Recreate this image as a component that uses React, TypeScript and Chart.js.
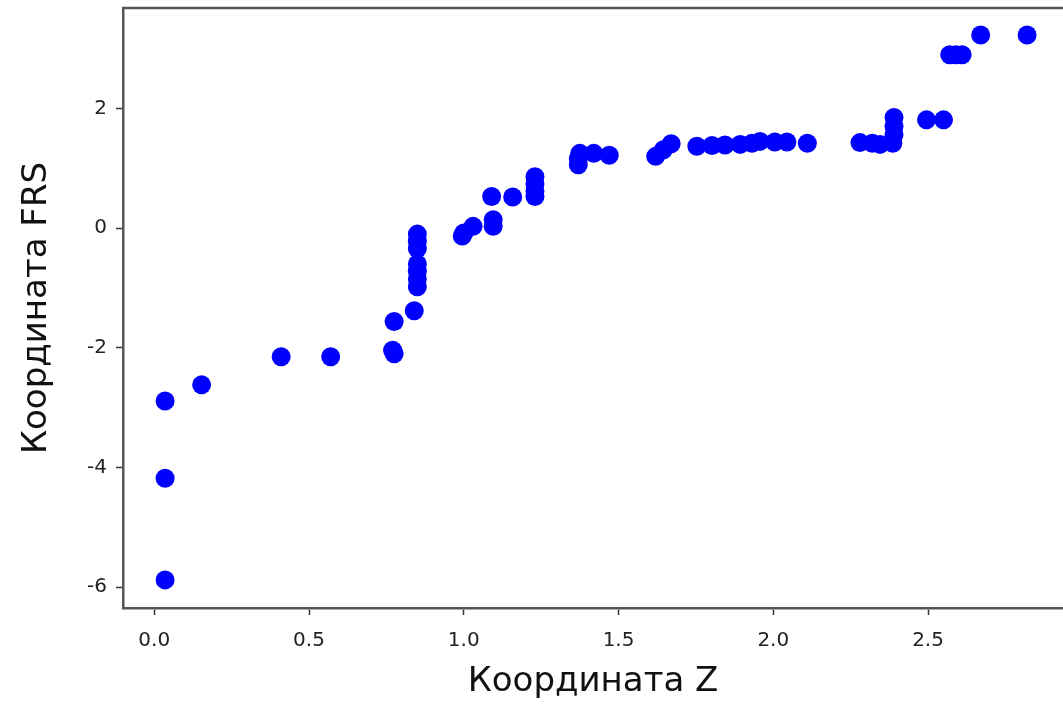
import React, { useEffect, useRef } from "react";
import { Chart, registerables } from "chart.js";

Chart.register(...registerables);

const xValues: number[] = [
  0.035, 0.035, 0.035, 0.153, 0.41, 0.57, 0.77, 0.775, 0.775, 0.84,
  0.85, 0.85, 0.85, 0.85, 0.85, 0.85, 0.85,
  0.995, 1.0, 1.03, 1.095, 1.095, 1.09, 1.158,
  1.23, 1.23, 1.23, 1.23,
  1.37, 1.37, 1.375, 1.42, 1.47,
  1.62, 1.645, 1.67,
  1.753, 1.802, 1.844, 1.893, 1.931, 1.957, 2.005, 2.044,
  2.11, 2.28, 2.32, 2.345, 2.386, 2.39, 2.39, 2.39,
  2.495, 2.55, 2.57, 2.59, 2.61, 2.67, 2.82,
];

const yValues: number[] = [
  -5.88, -4.18, -2.89, -2.62, -2.15, -2.15, -2.04, -2.1, -1.56, -1.38,
  -0.1, -0.22, -0.34, -0.6, -0.72, -0.85, -0.98,
  -0.13, -0.08, 0.03, 0.03, 0.14, 0.53, 0.52,
  0.86, 0.74, 0.62, 0.53,
  1.06, 1.16, 1.25, 1.25, 1.22,
  1.2, 1.31, 1.41,
  1.37, 1.38, 1.39, 1.4, 1.42, 1.45, 1.44, 1.44,
  1.42, 1.43, 1.42, 1.4, 1.42, 1.56, 1.7, 1.85,
  1.81, 1.81, 2.9, 2.9, 2.9, 3.23, 3.23,
];

const xTitle = "Координата Z";
const yTitle = "Координата FRS";

const FONT = "'DejaVu Sans', sans-serif";

export default function App() {
  const ref = useRef<HTMLCanvasElement | null>(null);

  useEffect(() => {
    if (!ref.current) return;
    const points = xValues.map((x, i) => ({ x, y: yValues[i] }));
    const frame = {
      id: "frame",
      afterDraw(chart: any) {
        const { ctx, chartArea } = chart;
        ctx.save();
        ctx.strokeStyle = "#555";
        ctx.lineWidth = 2.5;
        ctx.beginPath();
        ctx.moveTo(chartArea.left - 1, chartArea.top);
        ctx.lineTo(chartArea.right, chartArea.top);
        ctx.stroke();
        ctx.restore();
      },
    };
    const chart = new Chart(ref.current, {
      type: "scatter",
      data: {
        datasets: [
          {
            data: points,
            backgroundColor: "#0000ff",
            borderColor: "#0000ff",
            pointRadius: 9.5,
            pointHoverRadius: 9.5,
            borderWidth: 0,
          },
        ],
      },
      options: {
        responsive: false,
        animation: false,
        events: [],
        layout: { autoPadding: false, padding: { top: 8, right: 0, left: 0, bottom: 0 } },
        plugins: {
          legend: { display: false },
          tooltip: { enabled: false },
        },
        scales: {
          x: {
            type: "linear",
            min: -0.101,
            max: 2.936,
            afterFit(scale: any) {
              scale.height = 102;
              scale.paddingLeft = 0;
              scale.paddingRight = 0;
            },
            border: { display: true, color: "#555", width: 2.5 },
            grid: {
              drawOnChartArea: false,
              drawTicks: true,
              tickLength: 7,
              tickColor: "#333",
              tickWidth: 1.5,
            },
            ticks: {
              stepSize: 0.5,
              includeBounds: false,
              autoSkip: false,
              maxRotation: 0,
              padding: 14,
              color: "#222",
              font: { family: FONT, size: 20 },
              callback: (v: any) => Number(v).toFixed(1),
            },
            title: {
              display: true,
              text: xTitle,
              color: "#111",
              font: { family: FONT, size: 34 },
              padding: { top: 0, bottom: 7 },
            },
          },
          y: {
            type: "linear",
            min: -6.35,
            max: 3.68,
            afterFit(scale: any) {
              scale.width = 123;
              scale.paddingTop = 0;
              scale.paddingBottom = 0;
            },
            border: { display: true, color: "#555", width: 2.5 },
            grid: {
              drawOnChartArea: false,
              drawTicks: true,
              tickLength: 7,
              tickColor: "#333",
              tickWidth: 1.5,
            },
            ticks: {
              stepSize: 2,
              includeBounds: false,
              autoSkip: false,
              padding: 9,
              color: "#222",
              font: { family: FONT, size: 20 },
              callback: (v: any) => String(Math.round(Number(v))),
            },
            title: {
              display: true,
              text: yTitle,
              color: "#111",
              font: { family: FONT, size: 34 },
              padding: { top: 17, bottom: 0 },
            },
          },
        },
      },
      plugins: [frame],
    } as any);
    return () => chart.destroy();
  }, []);

  return (
    <div style={{ position: "absolute", left: 0, top: 0, width: 1063, height: 710, background: "#fff" }}>
      <canvas ref={ref} width={1063} height={710} style={{ display: "block" }} />
    </div>
  );
}
